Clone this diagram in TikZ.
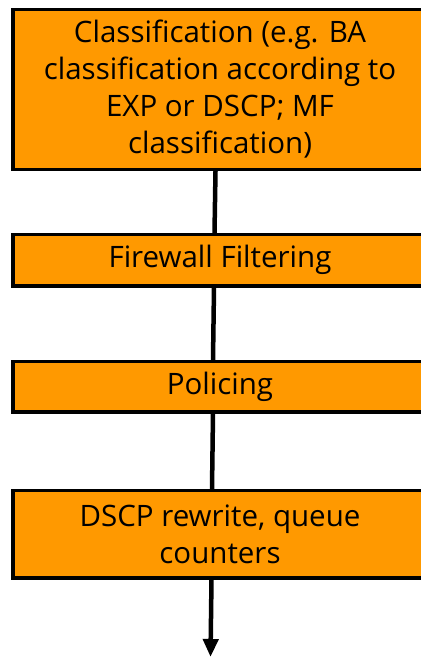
\documentclass[tikz,border=0pt]{standalone}
\usepackage{fontspec}
\setmainfont{Open Sans}
\usetikzlibrary{arrows.meta}
\definecolor{stageorange}{RGB}{255,153,0}
\tikzset{
  x=1pt, y=-1pt,
  stagebox/.style={draw=black, line width=3.2pt, fill=stageorange,
    minimum width=414pt, inner sep=0pt, align=center,
    font=\fontsize{29.5}{37}\selectfont},
  flow/.style={draw=black, line width=4.5pt},
  flowend/.style={flow, -{Triangle[width=15pt,length=18pt]}}
}
\begin{document}
\begin{tikzpicture}
\useasboundingbox (0,0) rectangle (420,658);
\fill[white] (0,0) rectangle (420,658);

\node[stagebox, minimum height=160pt] (classify) at (220,89.5)
  {Classification (e.g. BA\\classification according to\\EXP or DSCP; MF\\classification)};
\node[stagebox, minimum height=51.5pt] (firewall) at (220,260.25) {Firewall Filtering};
\node[stagebox, minimum height=50.5pt] (police) at (220,386.75) {Policing};
\node[stagebox, minimum height=87.5pt] (rewrite) at (220,534.25)
  {DSCP rewrite, queue\\counters};
\coordinate (exit) at (210.5,657);

\draw[flow] ([xshift=-4.5pt]classify.south) -- ([xshift=-5.5pt]firewall.north);
\draw[flow] ([xshift=-6pt]firewall.south) -- ([xshift=-7pt]police.north);
\draw[flow] ([xshift=-7pt]police.south) -- ([xshift=-8pt]rewrite.north);
\draw[flowend] ([xshift=-8.5pt]rewrite.south) -- (exit);
\end{tikzpicture}
\end{document}
